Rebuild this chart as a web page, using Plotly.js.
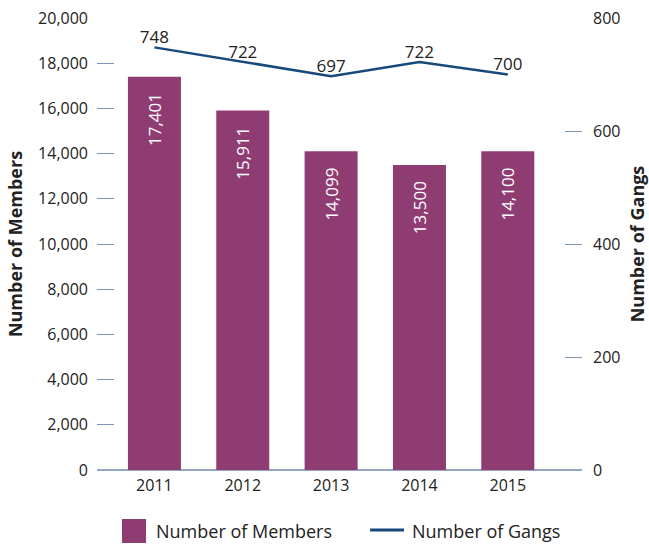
<!DOCTYPE html>
<html>
<head>
<meta charset="utf-8">
<script src="https://cdn.plot.ly/plotly-3.0.1.min.js"></script>
<style>html,body{margin:0;padding:0;background:#fff;}#chart{width:649px;height:544px;}</style>
</head>
<body>
<div id="chart"></div>
<script>
const years = ['2011', '2012', '2013', '2014', '2015'];
const members = [17401, 15911, 14099, 13500, 14100];
const gangs = [748, 722, 697, 722, 700];
const memberTicks = [0, 2000, 4000, 6000, 8000, 10000, 12000, 14000, 16000, 18000, 20000];
const gangTicks = [0, 200, 400, 600, 800];
const seriesNames = ['Number of Members', 'Number of Gangs'];

const fmt = v => v.toLocaleString('en-US');
const FONT = 'Open Sans, Noto Sans, sans-serif';
const PURPLE = '#8f3c73';
const NAVY = '#17497a';
const PAD = '\u00a0\u00a0\u00a0';

const traces = [
  {
    type: 'bar', x: years, y: members, name: seriesNames[0],
    marker: {color: PURPLE}, width: 0.6,
    text: members.map(v => fmt(v) + PAD), textposition: 'inside', insidetextanchor: 'end',
    textangle: -90, textfont: {color: '#ffffff', size: 17, family: FONT},
    hoverinfo: 'skip', showlegend: false
  },
  {
    type: 'scatter', mode: 'lines+text', x: years, y: gangs, yaxis: 'y2',
    name: seriesNames[1], line: {color: NAVY, width: 2.5},
    text: gangs.map(String), textposition: 'top center',
    textfont: {color: '#222', size: 17, family: FONT}, cliponaxis: false, showlegend: false
  }
];

// manual legend (paper coordinates)
const shapes = [
  {type: 'rect', xref: 'paper', yref: 'paper', x0: 0.0515, x1: 0.101, y0: -0.1084, y1: -0.1615,
   fillcolor: PURPLE, line: {width: 0}},
  {type: 'line', xref: 'paper', yref: 'paper', x0: 0.563, x1: 0.633, y0: -0.1327, y1: -0.1327,
   line: {color: NAVY, width: 3}}
];
const annotations = [
  {xref: 'paper', yref: 'paper', x: 0.1175, y: -0.1355, xanchor: 'left', yanchor: 'middle',
   text: seriesNames[0], showarrow: false, font: {size: 18, color: '#222'}},
  {xref: 'paper', yref: 'paper', x: 0.645, y: -0.1355, xanchor: 'left', yanchor: 'middle',
   text: seriesNames[1], showarrow: false, font: {size: 18, color: '#222'}}
];

const layout = {
  width: 649, height: 544,
  margin: {l: 97, r: 67, t: 18, b: 74},
  paper_bgcolor: '#fff', plot_bgcolor: '#fff',
  font: {family: FONT, color: '#222', size: 16},
  showlegend: false,
  shapes: shapes, annotations: annotations,
  xaxis: {
    type: 'category', range: [-0.65, 4.84], showgrid: false, zeroline: false,
    showline: false, ticks: '', tickfont: {size: 16}, ticklabelstandoff: 4
  },
  yaxis: {
    range: [0, 20000], tickvals: memberTicks, ticktext: memberTicks.map(fmt),
    showgrid: false, zeroline: true, zerolinecolor: '#93a7c0', zerolinewidth: 2,
    showline: false, ticks: 'inside', ticklen: 17, tickcolor: '#7d95b3', tickwidth: 1,
    ticklabelstandoff: 8, tickfont: {size: 16},
    title: {text: seriesNames[0], font: {size: 18, weight: 'bold', color: '#222'}, standoff: 10}
  },
  yaxis2: {
    overlaying: 'y', side: 'right', range: [0, 800], tickvals: gangTicks,
    showgrid: false, zeroline: false, showline: false,
    ticks: 'inside', ticklen: 17, tickcolor: '#7d95b3', tickwidth: 1,
    ticklabelstandoff: 10, tickfont: {size: 16},
    title: {text: seriesNames[1], font: {size: 18, weight: 'bold', color: '#222'}, standoff: 12}
  }
};

Plotly.newPlot('chart', traces, layout, {displayModeBar: false, staticPlot: true});
</script>
</body>
</html>
